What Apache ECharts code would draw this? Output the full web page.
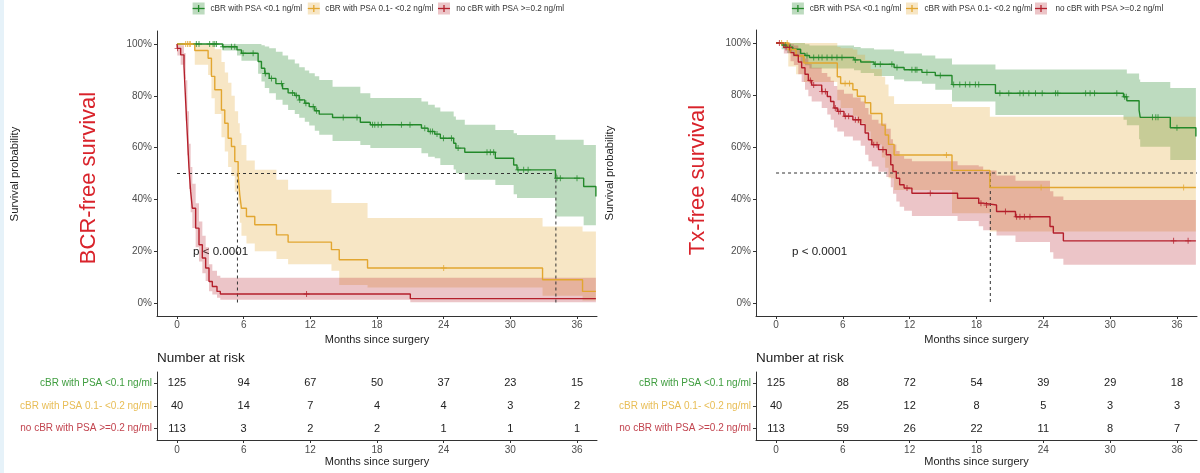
<!DOCTYPE html>
<html><head><meta charset="utf-8">
<script src="https://cdn.jsdelivr.net/npm/echarts@6/dist/echarts.min.js"></script>
<style>html,body{margin:0;padding:0;background:#fff}#c{width:1200px;height:473px}</style>
</head><body><div id="c"></div><script>
// ---------- DATA ----------
const groupNames = ['cBR with PSA <0.1 ng/ml', 'cBR with PSA 0.1- <0.2 ng/ml', 'no cBR with PSA >=0.2 ng/ml'];
const xTicks = [0, 6, 12, 18, 24, 30, 36];
const yTicks = [0, 20, 40, 60, 80, 100];

// Kaplan-Meier rows: [months, survival %, lower CI %, upper CI %]
const bcrGreen = [
  [0,100,100,100],[4.1,98.9,97.5,100],[5.4,97.7,95.5,100],[5.8,96.4,93.5,100],
  [7.3,93.2,88.5,100],[7.6,90.6,85.5,99.5],[7.9,88.6,83,99],[8.3,86.7,81,98.3],
  [8.9,84.7,78.5,97],[9.5,82.7,76.5,95.5],[10.0,81.1,74.5,94],[10.6,80.1,73,92.5],
  [11.0,78.4,71.5,91],[11.5,77.1,70,89.8],[11.9,75.8,68.5,88.7],[12.4,74.2,66.5,87.5],
  [12.8,72.9,65,86.1],[14.0,71.6,62.5,83.5],[16.5,69.8,61,81],[17.4,68.8,59.8,79.1],
  [22.0,67.5,57.8,77.8],[22.6,66.2,56.5,76.5],[23.2,65.2,55.9,75.5],[23.7,63.6,53.3,73.9],
  [24.9,61.7,51.5,72],[25.1,59.8,50.1,70.7],[25.9,58.2,47.6,68.8],[28.65,55.9,45.6,66.8],
  [30.3,53.3,42,65.5],[30.6,51.4,40.5,64.9],[34.06,48.2,33.4,63],[36.6,45.0,30,61],
  [37.7,41.1,30,61]
];
const bcrYellow = [
  [0,100,100,100],[1.6,97.5,92,100],[2.8,94.5,88,100],[3.1,87.5,79,100],
  [3.4,82.3,73,98],[4.0,74.5,64,93],[4.3,69.4,58.5,89],[4.6,63.6,52.5,85],
  [4.9,60.4,49,80],[5.2,54.6,43,74],[5.5,49.5,38,69.4],[5.65,41.8,31,65.5],
  [5.8,36.6,26,61],[6.25,33.4,23,55],[7.0,30.2,20,51.4],[8.95,26.3,17,47.6],
  [10.0,23.5,15,43.7],[13.9,20.6,12.5,38.6],[14.6,16.7,7.0,38.6],[17.15,13.5,6.0,32.8],
  [32.9,9.0,2.8,29.5],[36.5,4.5,1.0,27.6],[37.7,4.5,1.0,27.6]
];
const bcrRed = [
  [0,100,100,100],[0.03,98.3,95.5,100],[0.33,95.8,92,99.5],[0.63,91.3,86.5,96.5],
  [0.78,77.8,70.5,86],[0.93,64.9,57,74],[1.08,52,44,61.5],[1.23,43,35,52.5],
  [1.38,36.6,29,46],[1.68,28.9,21.5,38.5],[1.98,22.5,16,31.5],[2.28,17.4,11.5,26],
  [2.58,13.5,8.5,21.5],[2.88,8.3,4.6,15],[3.18,6.4,3.3,12.5],[3.6,4.5,2.0,10.5],
  [3.9,3.5,1.3,9.8],[21.0,1.7,0.3,9.8],[37.7,1.7,0.3,9.8]
];
const txGreen = [
  [0,100,100,100],[0.5,99.2,97.6,100],[1.0,98.4,96.2,100],[1.5,97.6,94.8,100],
  [2.2,96.0,92.6,100],[2.6,95.2,91.4,99.5],[3.0,94.4,90.2,99],[7.0,93.5,89.5,98.5],
  [7.6,92.7,88.5,98],[8.8,91.8,87.3,97.5],[10.6,90.6,86,96.8],[11.5,89.7,85.3,96],
  [13.1,88.7,84.3,95.2],[14.3,87.5,82,94],[15.8,84.0,77.5,91.7],[19.7,80.7,72.3,89.8],
  [31.2,79.3,70.5,89.8],[31.5,77.8,68.4,88.3],[32.6,74.2,63,86],[32.7,71.4,60.1,85],
  [35.4,67.4,55,82.7],[37.7,64,55,82.7]
];
const txYellow = [
  [0,100,100,100],[1.1,97.5,91,100],[1.8,95.0,88,100],[2.5,92.3,85,100],
  [5.5,87.0,78,98.5],[5.8,84.4,75,98],[6.9,82.0,72,97.5],[7.3,79.5,69,95.5],
  [8.0,77.0,66,93.5],[8.5,72.9,61,90],[9.5,68.4,56,87],[9.8,64.6,52,84],
  [10.1,61.0,48,79.5],[10.6,56.9,43.5,76.5],[15.8,51.0,34.5,75.4],[19.2,44.4,27.5,71.6],
  [37.7,44.4,27.5,71.6]
];
const txRed = [
  [0,100,100,100],[0.7,98.3,96,100],[1.3,96.3,93,99.5],[1.6,95.3,91.5,99],
  [2.0,92.7,88,97.5],[2.3,90.5,85,96],[2.6,88.0,82,94],[2.9,85.6,79.5,92],
  [3.2,83.8,77.5,90.5],[4.1,81.3,75,88.5],[4.6,79.4,72.5,87],[4.9,77.5,70.5,85.5],
  [5.2,75.0,67.5,83.5],[5.5,73.7,66,82],[6.1,71.8,64,80.5],[6.9,70.5,62.5,79],
  [7.6,68.6,60.5,77.5],[8.0,65.4,57,75],[8.3,62.8,54.5,72.5],[8.6,60.9,52.5,70.5],
  [9.2,59.0,50.5,69],[9.9,57.0,48.5,67],[10.3,53.2,44.5,63],[10.5,50.6,42,61],
  [10.8,48.0,39,58.5],[11.1,45.5,37,56.5],[11.5,44.2,35.5,55.5],[12.2,42.2,33.5,54.5],
  [16.3,40.3,31.5,53],[18.2,38.4,29.5,52.5],[18.6,37.7,28,51],[19.8,35.2,26,49],
  [21.5,33.2,23.5,47],[24.6,29.4,19.5,43],[24.9,26.9,17,41],[25.8,23.9,14.7,39.6],
  [37.7,23.9,14.7,39.6]
];

// censoring times (months)
const bcrGreenCens = [1.74,1.98,2.94,3.25,3.4,3.55,4.15,4.9,5.2,5.95,6.85,7.95,8.5,9.4,10.4,10.75,11.05,11.6,12.26,12.56,14.96,16.2,17.6,17.8,18.1,18.4,20.2,20.97,22.3,22.8,23.0,23.4,23.98,24.7,25.3,27.9,28.2,28.5,30.7,31.2,31.6,34.2,34.5,36.0];
const bcrYellowCens = [0.78,0.95,1.1,1.2,24.0];
const bcrRedCens = [0.05,11.66];
const txGreenCens = [0.84,1.28,2.78,3.38,3.83,4.13,4.58,5.02,5.47,5.92,7.12,8.92,9.36,10.4,10.86,12.2,12.5,12.65,13.55,14.75,15.95,16.5,17.0,17.4,17.9,18.2,20.1,20.9,21.9,22.2,22.7,23.3,23.9,25.1,25.3,27.8,28.2,28.6,30.6,31.3,31.45,33.8,34.1,34.3,36.0];
const txYellowCens = [0.5,1.0,1.3,6.2,6.6,15.3,23.8,36.6];
const txRedCens = [0.3,0.9,1.2,3.08,3.38,4.13,4.43,5.32,5.62,5.77,6.22,6.52,7.12,7.4,8.77,9.07,9.6,11.76,13.85,18.4,18.9,20.6,21.6,21.9,22.3,22.8,35.7,37.0];

// median reference lines
const bcrMedianH = [0, 34.1];
const bcrMedianV = [5.44, 34.1];
const txMedianH = [0, 37.8];
const txMedianV = [19.24];

// number at risk at xTicks
const bcrRiskGreen = [125,94,67,50,37,23,15];
const bcrRiskYellow = [40,14,7,4,4,3,2];
const bcrRiskRed = [113,3,2,2,1,1,1];
const txRiskGreen = [125,88,72,54,39,29,18];
const txRiskYellow = [40,25,12,8,5,3,3];
const txRiskRed = [113,59,26,22,11,8,7];

// ---------- STYLE ----------
const FONT = 'Liberation Sans, Arial, sans-serif';
const lineColors = ['#23892a', '#e2a630', '#b41f2b'];
const bandColors = ['rgba(35,137,42,0.30)', 'rgba(226,166,48,0.28)', 'rgba(180,31,43,0.26)'];
const labelColors = ['#3f9d3f', '#e8bd55', '#c2444f'];
const plusPath = 'path://M4.2,0h1.6v4.2h4.2v1.6h-4.2v4.2h-1.6v-4.2h-4.2v-1.6h4.2z';

function survAt(rows, t) {
  let s = rows[0][1];
  for (const r of rows) { if (r[0] <= t) s = r[1]; else break; }
  return s;
}

const grids = [
  { left: 157, top: 31, width: 440, height: 285 },
  { left: 756, top: 30, width: 441, height: 286 },
  { left: 157, top: 372, width: 440, height: 68 },
  { left: 756, top: 372, width: 441, height: 68 }
];

const axisLineStyle = { color: '#333', width: 1 };
function xAx(gi, gap, margin) {
  return {
    gridIndex: gi, type: 'value', min: -1.8, max: 37.8,
    axisLine: { show: true, onZero: false, lineStyle: axisLineStyle },
    axisTick: { show: true, length: 3, customValues: xTicks, lineStyle: axisLineStyle },
    axisLabel: { customValues: xTicks, color: '#4d4d4d', fontSize: 10, fontFamily: FONT, margin: margin },
    splitLine: { show: false },
    name: 'Months since surgery', nameLocation: 'middle', nameGap: gap,
    nameTextStyle: { color: '#222', fontSize: 11, fontFamily: FONT }
  };
}
function yAxPlot(gi) {
  return {
    gridIndex: gi, type: 'value', min: -5, max: 105,
    axisLine: { show: true, onZero: false, lineStyle: axisLineStyle },
    axisTick: { show: true, length: 3, customValues: yTicks, lineStyle: axisLineStyle },
    axisLabel: { customValues: yTicks, formatter: '{value}%', color: '#4d4d4d', fontSize: 10, fontFamily: FONT, margin: 5 },
    splitLine: { show: false }
  };
}
function yAxRisk(gi) {
  return {
    gridIndex: gi, type: 'category', inverse: true,
    data: groupNames.map((n, i) => ({ value: n, textStyle: { color: labelColors[i] } })),
    axisLine: { show: true, onZero: false, lineStyle: axisLineStyle },
    axisTick: { show: true, length: 3, alignWithLabel: true, lineStyle: axisLineStyle },
    axisLabel: { fontSize: 10, fontFamily: FONT, margin: 5 },
    splitLine: { show: false }
  };
}

const series = [];
function addPanel(gi, groups, cens, medH, medV) {
  groups.forEach((rows, k) => {
    series.push({
      type: 'custom', xAxisIndex: gi, yAxisIndex: gi, z: 1, silent: true,
      data: rows, encode: { x: 0, y: [2, 3] },
      renderItem: function (params, api) {
        if (params.dataIndex !== 0) return null;
        const up = [], lo = [];
        for (let i = 0; i < rows.length - 1; i++) {
          const t0 = rows[i][0], t1 = rows[i + 1][0];
          up.push(api.coord([t0, rows[i][3]]), api.coord([t1, rows[i][3]]));
          lo.push(api.coord([t0, rows[i][2]]), api.coord([t1, rows[i][2]]));
        }
        return { type: 'polygon', shape: { points: up.concat(lo.reverse()) }, style: { fill: bandColors[k] } };
      }
    });
  });
  // median dashed lines
  series.push({
    type: 'line', xAxisIndex: gi, yAxisIndex: gi, z: 3, silent: true, symbol: 'none',
    data: [[medH[0], 50], [medH[1], 50]],
    lineStyle: { color: '#333', width: 1, type: [3, 3] }
  });
  medV.forEach(t => series.push({
    type: 'line', xAxisIndex: gi, yAxisIndex: gi, z: 3, silent: true, symbol: 'none',
    data: [[t, 50], [t, 0]],
    lineStyle: { color: '#333', width: 1, type: [3, 3] }
  }));
  groups.forEach((rows, k) => {
    series.push({
      type: 'line', xAxisIndex: gi, yAxisIndex: gi, z: 4, step: 'end', symbol: 'none', silent: true,
      data: rows.map(r => [r[0], r[1]]),
      lineStyle: { color: lineColors[k], width: 1.4 }
    });
    series.push({
      type: 'scatter', xAxisIndex: gi, yAxisIndex: gi, z: 5, silent: true,
      symbol: plusPath, symbolSize: 6,
      data: cens[k].map(t => [t, survAt(rows, t)]),
      itemStyle: { color: lineColors[k] }
    });
  });
}
addPanel(0, [bcrGreen, bcrYellow, bcrRed], [bcrGreenCens, bcrYellowCens, bcrRedCens], bcrMedianH, bcrMedianV);
addPanel(1, [txGreen, txYellow, txRed], [txGreenCens, txYellowCens, txRedCens], txMedianH, txMedianV);

function addRisk(gi, lists) {
  const data = [];
  lists.forEach((arr, k) => arr.forEach((n, i) => data.push([xTicks[i], k, n])));
  series.push({
    type: 'custom', xAxisIndex: gi, yAxisIndex: gi, silent: true,
    data: data, encode: { x: 0, y: 1 },
    renderItem: function (params, api) {
      const p = api.coord([api.value(0), api.value(1)]);
      return { type: 'text', x: p[0], y: p[1],
        style: { text: String(api.value(2)), fill: '#222', font: '11px ' + FONT,
          align: 'center', verticalAlign: 'middle', textAlign: 'center', textVerticalAlign: 'middle' } };
    }
  });
}
addRisk(2, [bcrRiskGreen, bcrRiskYellow, bcrRiskRed]);
addRisk(3, [txRiskGreen, txRiskYellow, txRiskRed]);

// ---------- GRAPHICS (titles, legends) ----------
const graphic = [
  { type: 'rect', left: 0, top: 0, shape: { width: 4, height: 473 }, style: { fill: '#e6f2f9' }, silent: true }
];
function vText(x, y, text, size, color) {
  graphic.push({ type: 'text', x: x, y: y, rotation: Math.PI / 2, silent: true,
    style: { text: text, fill: color, font: size + 'px ' + FONT, align: 'center', verticalAlign: 'middle' } });
}
function hText(x, y, text, size, color, align) {
  graphic.push({ type: 'text', x: x, y: y, silent: true,
    style: { text: text, fill: color, font: size + 'px ' + FONT, align: align || 'left', verticalAlign: 'middle' } });
}
vText(15, 174, 'Survival probability', 11.3, '#222');
vText(89, 178, 'BCR-free survival', 22, '#d9232b');
vText(610, 173, 'Survival probability', 11.3, '#222');
vText(698, 180, 'Tx-free survival', 22, '#d9232b');
hText(193, 252, 'p < 0.0001', 11.6, '#222');
hText(792, 252, 'p < 0.0001', 11.6, '#222');
hText(157, 358, 'Number at risk', 13.5, '#222');
hText(756, 358, 'Number at risk', 13.5, '#222');

function legend(keyX, textX) {
  keyX.forEach((cx, k) => {
    graphic.push({ type: 'rect', x: cx - 6, y: 2.5, shape: { width: 12, height: 12 }, style: { fill: bandColors[k] }, silent: true });
    graphic.push({ type: 'line', shape: { x1: cx - 6, y1: 8.5, x2: cx + 6, y2: 8.5 }, style: { stroke: lineColors[k], lineWidth: 1.3 }, silent: true });
    graphic.push({ type: 'line', shape: { x1: cx, y1: 5, x2: cx, y2: 12 }, style: { stroke: lineColors[k], lineWidth: 1.3 }, silent: true });
    hText(textX[k], 8.5, groupNames[k], 8.2, '#333');
  });
}
legend([198.6, 313.8, 444], [210.5, 325.3, 456.2]);
legend([797.9, 912, 1041], [809.7, 924.5, 1055.4]);

const chart = echarts.init(document.getElementById('c'), null, { renderer: 'canvas' });
chart.setOption({
  animation: false,
  backgroundColor: '#ffffff',
  grid: grids,
  xAxis: [xAx(0, 15.5, 4), xAx(1, 15.5, 4), xAx(2, 16.5, 5), xAx(3, 16.5, 5)],
  yAxis: [yAxPlot(0), yAxPlot(1), yAxRisk(2), yAxRisk(3)],
  series: series,
  graphic: graphic
});
</script></body></html>
